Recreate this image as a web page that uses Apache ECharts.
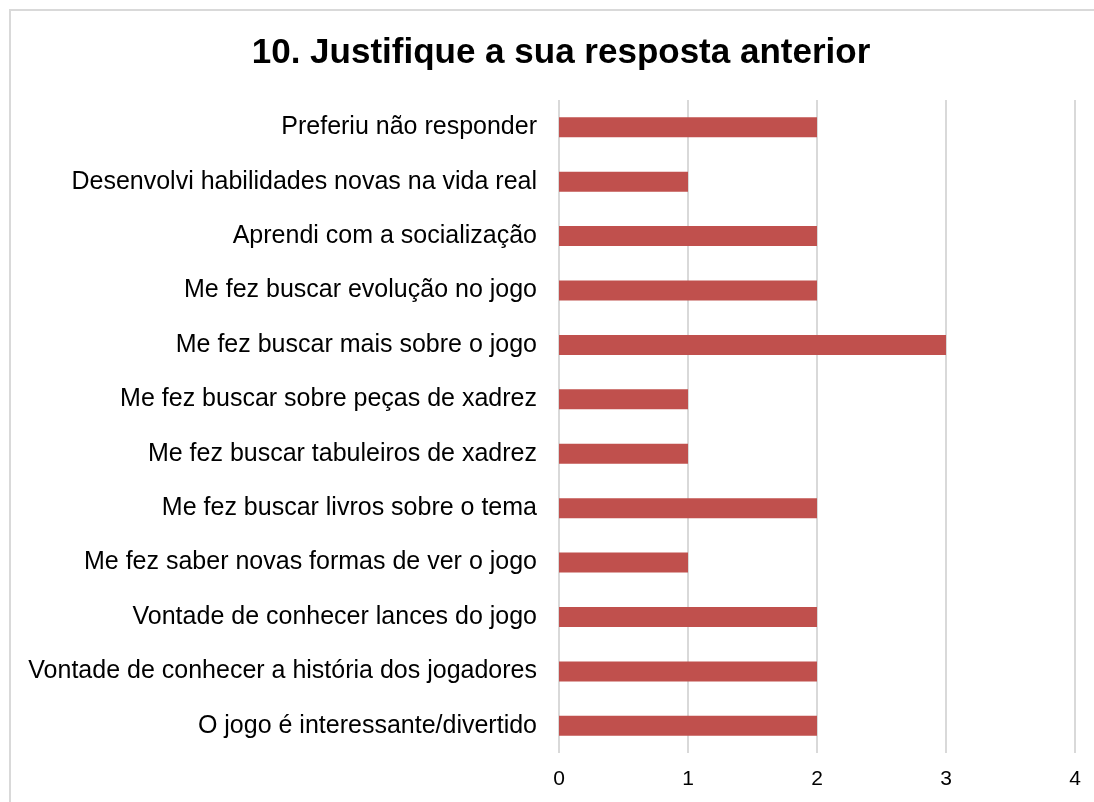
<!DOCTYPE html>
<html>
<head>
<meta charset="utf-8">
<script src="https://cdn.jsdelivr.net/npm/echarts@6/dist/echarts.min.js"></script>
<style>
	html, body { margin: 0; padding: 0; background: #fff; }
	#chart { width: 1094px; height: 802px; }
</style>
</head>
<body>
<div id="chart"></div>
<script>
	// categories from top to bottom as in the picture
	var categories = [
		'Preferiu não responder',
		'Desenvolvi habilidades novas na vida real',
		'Aprendi com a socialização',
		'Me fez buscar evolução no jogo',
		'Me fez buscar mais sobre o jogo',
		'Me fez buscar sobre peças de xadrez',
		'Me fez buscar tabuleiros de xadrez',
		'Me fez buscar livros sobre o tema',
		'Me fez saber novas formas de ver o jogo',
		'Vontade de conhecer lances do jogo',
		'Vontade de conhecer a história dos jogadores',
		'O jogo é interessante/divertido'
	];
	var values = [2, 1, 2, 2, 3, 1, 1, 2, 1, 2, 2, 2];
	var xTicks = [0, 1, 2, 3, 4];

	var myChart = echarts.init(document.getElementById('chart'));
	myChart.setOption({
		animation: false,
		textStyle: { fontFamily: 'Liberation Sans, Arial, sans-serif' },
		graphic: [{
			type: 'rect',
			shape: { x: 10, y: 10, width: 1100, height: 800 },
			style: { fill: 'none', stroke: '#d9d9d9', lineWidth: 2 },
			silent: true
		}],
		title: {
			text: '10. Justifique a sua resposta anterior',
			left: 556,
			top: 31,
			textAlign: 'center',
			textStyle: { fontSize: 35, fontWeight: 'bold', color: '#000', fontFamily: 'Liberation Sans, Arial, sans-serif' }
		},
		grid: { left: 559, right: 19, top: 100, bottom: 49 },
		xAxis: {
			type: 'value',
			min: xTicks[0],
			max: xTicks[xTicks.length - 1],
			interval: 1,
			axisLine: { show: false },
			axisTick: { show: false },
			axisLabel: { fontSize: 21, color: '#000', margin: 16 },
			splitLine: { lineStyle: { color: '#d9d9d9', width: 2 } }
		},
		yAxis: {
			type: 'category',
			inverse: true,
			data: categories,
			axisLine: { show: false },
			axisTick: { show: false },
			axisLabel: { fontSize: 25, color: '#000', margin: 22 }
		},
		series: [{
			type: 'bar',
			data: values,
			barWidth: 20,
			itemStyle: { color: '#C0504D' }
		}]
	});
</script>
</body>
</html>
